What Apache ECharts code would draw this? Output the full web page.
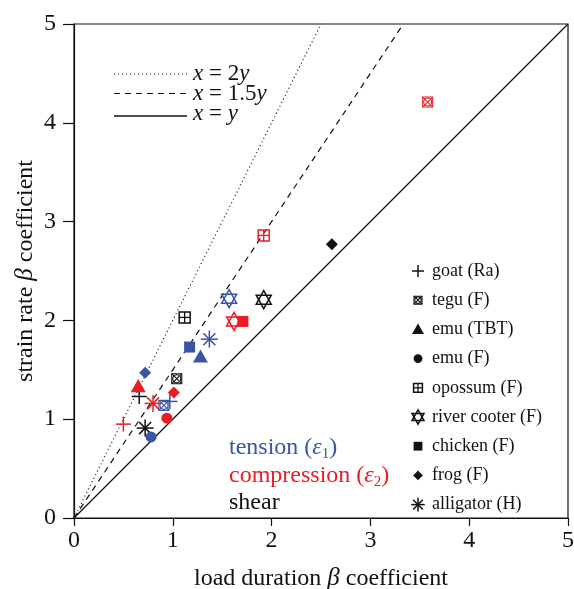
<!DOCTYPE html>
<html>
<head>
<meta charset="utf-8">
<script src="https://cdn.jsdelivr.net/npm/echarts@6/dist/echarts.min.js"></script>
<style>
  html, body { margin: 0; padding: 0; background: #fff; }
  #chart { width: 574px; height: 589px; }
</style>
</head>
<body>
<div id="chart"></div>
<script>
// species names, in legend order
const species = ['goat (Ra)', 'tegu (F)', 'emu (TBT)', 'emu (F)', 'opossum (F)',
  'river cooter (F)', 'chicken (F)', 'frog (F)', 'alligator (H)'];
const markerShapes = ['plus', 'tegu', 'triangle', 'circle', 'opossum',
  'star', 'square', 'diamond', 'asterisk'];

// [load duration beta, strain rate beta] per species, null = no value
const tension = [[0.97, 1.18], [0.91, 1.14], [1.28, 1.63], [0.78, 0.82], null,
  [1.57, 2.22], [1.17, 1.73], [0.72, 1.47], [1.37, 1.81]];
const compression = [[0.50, 0.95], [3.58, 4.21], [0.65, 1.33], [0.94, 1.01], [1.92, 2.86],
  [1.62, 1.99], [1.71, 1.99], [1.01, 1.27], [0.80, 1.16]];
const shear = [[0.66, 1.23], [1.04, 1.41], null, null, [1.12, 2.03],
  [1.92, 2.21], null, [2.61, 2.77], [0.72, 0.91]];

// reference lines y = k x, up to the top of the plot
const refSlopes = [2, 1.5, 1];
const refLabels = ['{i|x} = 2{i|y}', '{i|x} = 1.5{i|y}', '{i|x} = {i|y}'];
const refDash = [[1, 3], [6, 5], 'solid'];

const axisTicks = [0, 1, 2, 3, 4, 5];

const BLUE = '#3b55a5';
const RED = '#ec1c24';
const BLACK = '#111';
const FONT = '"Liberation Serif", "DejaVu Serif", serif';

function drawMarker(shape, cx, cy, color, s) {
  const ln = (x1, y1, x2, y2, w) => ({
    type: 'line', shape: {x1, y1, x2, y2},
    style: {stroke: color, lineWidth: w || 1.4}
  });
  switch (shape) {
    case 'plus': {
      const h = 7.5 * s;
      return [ln(cx - h, cy, cx + h, cy, 1.5), ln(cx, cy - h, cx, cy + h, 1.5)];
    }
    case 'tegu': {
      const h = 5 * s;
      return [
        {type: 'rect', shape: {x: cx - h, y: cy - h, width: 2 * h, height: 2 * h},
          style: {fill: 'none', stroke: color, lineWidth: 1.1}},
        {type: 'circle', shape: {cx, cy, r: h * 0.8},
          style: {fill: 'none', stroke: color, lineWidth: 1.1}},
        ln(cx - h, cy - h, cx + h, cy + h, 1.1), ln(cx - h, cy + h, cx + h, cy - h, 1.1)
      ];
    }
    case 'triangle': {
      const h = 7.5 * s;
      return [{type: 'polygon',
        shape: {points: [[cx, cy - h], [cx - h, cy + h * 0.75], [cx + h, cy + h * 0.75]]},
        style: {fill: color}}];
    }
    case 'circle':
      return [{type: 'circle', shape: {cx, cy, r: 5.5 * s}, style: {fill: color}}];
    case 'opossum': {
      const h = 5.5 * s;
      return [
        {type: 'rect', shape: {x: cx - h, y: cy - h, width: 2 * h, height: 2 * h},
          style: {fill: 'none', stroke: color, lineWidth: 1.5}},
        ln(cx - h, cy, cx + h, cy, 1.3), ln(cx, cy - h, cx, cy + h, 1.3)
      ];
    }
    case 'star': {
      const w = 7.5 * s, h = 9 * s;
      return [
        {type: 'polygon', shape: {points: [[cx, cy - h], [cx - w, cy + h / 2], [cx + w, cy + h / 2]]},
          style: {fill: 'none', stroke: color, lineWidth: 1.5}},
        {type: 'polygon', shape: {points: [[cx, cy + h], [cx - w, cy - h / 2], [cx + w, cy - h / 2]]},
          style: {fill: 'none', stroke: color, lineWidth: 1.5}}
      ];
    }
    case 'square': {
      const h = 5.5 * s;
      return [{type: 'rect', shape: {x: cx - h, y: cy - h, width: 2 * h, height: 2 * h},
        style: {fill: color}}];
    }
    case 'diamond': {
      const h = 6 * s;
      return [{type: 'polygon',
        shape: {points: [[cx, cy - h], [cx + h, cy], [cx, cy + h], [cx - h, cy]]},
        style: {fill: color}}];
    }
    case 'asterisk': {
      const r = 8.5 * s, d = r * 0.7071;
      return [ln(cx - r, cy, cx + r, cy, 1.5), ln(cx, cy - r, cx, cy + r, 1.5),
        ln(cx - d, cy - d, cx + d, cy + d, 1.5), ln(cx - d, cy + d, cx + d, cy - d, 1.5)];
    }
  }
  return [];
}

function toData(points) {
  const out = [];
  points.forEach((p, i) => { if (p) out.push([p[0], p[1], i]); });
  return out;
}

function markerSeries(name, points, color) {
  return {
    name: name,
    type: 'custom',
    data: toData(points),
    encode: {x: 0, y: 1},
    z: 3,
    renderItem: (params, api) => {
      const pt = api.coord([api.value(0), api.value(1)]);
      return {type: 'group',
        children: drawMarker(markerShapes[api.value(2)], pt[0], pt[1], color, 1)};
    }
  };
}

const lineSeries = refSlopes.map((k, i) => ({
  type: 'line',
  data: [[0, 0], [Math.min(5, 5 / k), Math.min(5, 5 * k)]],
  symbol: 'none',
  silent: true,
  z: 2,
  lineStyle: {color: BLACK, width: i === 2 ? 1.3 : 1.2, type: refDash[i]}
}));

// legends drawn as graphic elements
const graphics = [];
const lineLegendY = [74, 93.5, 114];
refSlopes.forEach((k, i) => {
  const ly = lineLegendY[i] + (i === 2 ? 2 : 0);
  graphics.push({
    type: 'line', shape: {x1: 114, y1: ly, x2: 187, y2: ly},
    style: {stroke: BLACK, lineWidth: i === 2 ? 1.3 : 1.2, lineDash: refDash[i] === 'solid' ? null : refDash[i]}
  });
  graphics.push({
    type: 'text', x: 193, y: lineLegendY[i],
    style: {text: refLabels[i], font: '23px ' + FONT, fill: BLACK, verticalAlign: 'middle',
      rich: {i: {fontStyle: 'italic', fontSize: 23, fontFamily: FONT}}}
  });
});
species.forEach((name, i) => {
  const y = 271 + i * 29.2;
  graphics.push({type: 'group', children: drawMarker(markerShapes[i], 418, y, BLACK, 0.8)});
  graphics.push({
    type: 'text', x: 432, y: y,
    style: {text: name, font: '18px ' + FONT, fill: BLACK, verticalAlign: 'middle'}
  });
});
const typeLabels = [
  {text: 'tension ({e|ε}{s|1})', color: BLUE, y: 448},
  {text: 'compression ({e|ε}{s|2})', color: RED, y: 476},
  {text: 'shear', color: BLACK, y: 503}
];
typeLabels.forEach(t => {
  graphics.push({
    type: 'text', x: 229, y: t.y,
    style: {
      text: t.text, font: '24px ' + FONT, fill: t.color, verticalAlign: 'middle',
      rich: {
        e: {fontStyle: 'italic', fontSize: 24, fontFamily: FONT, fill: t.color, lineHeight: 28},
        s: {fontSize: 15, fontFamily: FONT, fill: t.color, lineHeight: 15, verticalAlign: 'bottom'}
      }
    }
  });
});

const axisCommon = {
  type: 'value',
  min: axisTicks[0],
  max: axisTicks[axisTicks.length - 1],
  interval: 1,
  nameLocation: 'middle',
  nameMoveOverlap: false,
  splitLine: {show: false},
  axisLine: {lineStyle: {color: BLACK, width: 1.2}},
  axisTick: {lineStyle: {color: BLACK, width: 1.2}},
  axisLabel: {color: BLACK, fontSize: 24, fontFamily: FONT},
  nameTextStyle: {
    color: BLACK, fontSize: 24, fontFamily: FONT,
    rich: {b: {fontStyle: 'italic', fontSize: 25, fontFamily: FONT, color: BLACK}}
  }
};

const chart = echarts.init(document.getElementById('chart'), null, {renderer: 'canvas'});
chart.setOption({
  animation: false,
  backgroundColor: '#fff',
  grid: {left: 74, top: 24, right: 6, bottom: 71, show: true,
    outerBoundsMode: 'none', containLabel: false,
    borderColor: BLACK, borderWidth: 1.2, backgroundColor: 'transparent'},
  xAxis: Object.assign({}, axisCommon, {
    name: 'load duration {b|β} coefficient',
    nameGap: 48,
    axisTick: {length: 8, lineStyle: {color: BLACK, width: 1.2}},
    axisLabel: Object.assign({}, axisCommon.axisLabel, {margin: 11})
  }),
  yAxis: Object.assign({}, axisCommon, {
    name: 'strain rate {b|β} coefficient',
    nameGap: 36,
    nameRotate: 90,
    axisTick: {length: 11, lineStyle: {color: BLACK, width: 1.2}},
    axisLabel: Object.assign({}, axisCommon.axisLabel, {margin: 18})
  }),
  series: lineSeries.concat([
    markerSeries('shear', shear, BLACK),
    markerSeries('tension', tension, BLUE),
    markerSeries('compression', compression, RED)
  ]),
  graphic: {elements: graphics}
});
</script>
</body>
</html>
